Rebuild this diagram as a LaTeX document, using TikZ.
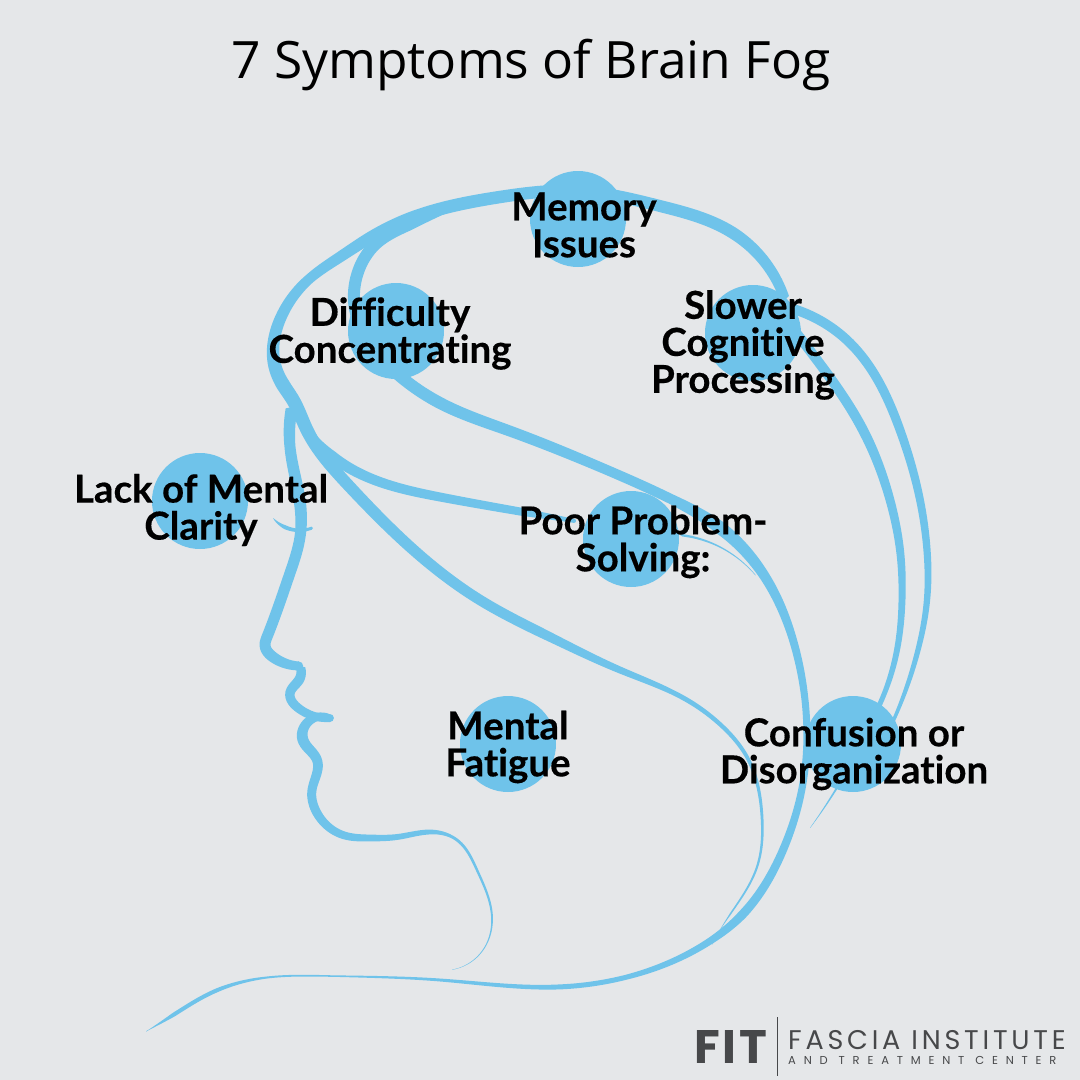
\documentclass[tikz,border=0pt]{standalone}
\usepackage{fontspec}
\usetikzlibrary{decorations.markings,hobby}
\setmainfont{Open Sans}
\newfontfamily\labelfont[Ligatures=NoCommon,BoldFeatures={FakeBold=0.35}]{Lato}
\newfontfamily\logofont{Poppins}
\definecolor{bgc}{HTML}{E5E7E9}
\definecolor{sky}{HTML}{6FC3EA}
\definecolor{logoc}{HTML}{47484A}
\tikzset{
  use Hobby shortcut,
  spot/.style={circle,fill=sky,minimum size=96pt,inner sep=0pt},
  lab/.style={font=\labelfont\bfseries\fontsize{38.5}{37}\selectfont,align=center,text=black,inner sep=0pt},
}
\makeatletter
% half width along a path: piecewise linear list distance/width
\newcommand\calcrad[1]{%
  \gdef\rr{0}\gdef\lastd{0}\gdef\lastw{0}\gdef\gotit{0}%
  \foreach \da/\wa in \wlist {%
    \ifnum\gotit=0
      \pgfmathtruncatemacro\inseg{(#1<=\da)?1:0}%
      \ifnum\inseg=1
        \pgfmathsetmacro\tmpr{(\lastw+(\wa-\lastw)*(#1-\lastd)/max(\da-\lastd,0.01))/2}%
        \xdef\rr{\tmpr}\gdef\gotit{1}%
      \fi
      \xdef\lastd{\da}\xdef\lastw{\wa}%
    \fi
  }%
  \ifnum\gotit=0 \pgfmathsetmacro\tmpr{\lastw/2}\xdef\rr{\tmpr}\fi
}
\newcommand\inkline[2]{%
  \def\wlist{#1}\gdef\leftedge{}\gdef\rightedge{}\gdef\capfirst{}%
  \path[decorate,decoration={markings,mark=between positions 0 and 1 step 2.5pt with {%
    \pgfmathsetmacro\curd{\pgfkeysvalueof{/pgf/decoration/mark info/distance from start}}%
    \calcrad{\curd}%
    \pgfpointtransformed{\pgfqpoint{0pt}{0pt}}%
    \xdef\caplast{\noexpand\pgfpathcircle{\noexpand\pgfqpoint{\the\pgf@x}{\the\pgf@y}}{\rr pt}}%
    \ifx\capfirst\@empty\global\let\capfirst\caplast\fi
    \pgfpointtransformed{\pgfqpoint{0pt}{\rr pt}}%
    \ifx\leftedge\@empty
      \xdef\leftedge{\noexpand\pgfpathmoveto{\noexpand\pgfqpoint{\the\pgf@x}{\the\pgf@y}}}%
    \else
      \xdef\leftedge{\unexpanded\expandafter{\leftedge}\noexpand\pgfpathlineto{\noexpand\pgfqpoint{\the\pgf@x}{\the\pgf@y}}}%
    \fi
    \pgfpointtransformed{\pgfqpoint{0pt}{-\rr pt}}%
    \xdef\rightedge{\noexpand\pgfpathlineto{\noexpand\pgfqpoint{\the\pgf@x}{\the\pgf@y}}\unexpanded\expandafter{\rightedge}}%
    }}] #2;%
  \begin{pgfscope}\pgfsetfillcolor{sky}\leftedge\rightedge\pgfpathclose\pgfusepath{fill}\capfirst\pgfusepath{fill}\caplast\pgfusepath{fill}\end{pgfscope}%
}
\makeatother
\begin{document}
\begin{tikzpicture}[x=1pt,y=-1pt]
\useasboundingbox (0,0) rectangle (1080,1080);
\fill[bgc] (0,0) rectangle (1080,1080);
\node[font=\fontsize{51.5}{54}\selectfont,inner sep=0pt] (title) at (531,65) {7 Symptoms of Brain Fog};
\node[spot] (c1) at (578,219) {};
\node[spot] (c2) at (396,331) {};
\node[spot] (c3) at (753,333) {};
\node[spot] (c4) at (200,501) {};
\node[spot] (c5) at (631,539) {};
\node[spot] (c6) at (508,744) {};
\node[spot] (c7) at (853,744) {};
% crown, forehead, jaw
\inkline{0/10,85/12,246/12,420/13,536/10,610/12,655/14,762/12,1014/10,1164/5,1247/4,1309/3,1432/1.5,1449/0.4}
 {(785,300)..(733,233)..(660,206)..(578,191)..(500,197)..(440,209)..(373,236)..(340,257)..(307,281)..(283,313)..(274,340)..(274,362)..(282,383)..(293,400)..(307,430)..(350,487)..(417,553)..(480,600)..(550,637)..(620,670)..(687,700)..(723,727)..(747,757)..(762,817)..(757,867)..(720,930)..(712,945)}
% branch to Poor
\inkline{0/4,60/11,113/10,175/9,259/8,311/4}
 {(295,410)..(333,457)..(380,482)..(440,497)..(523,512)..(575,521)}
% inner arc to Difficulty
\inkline{0/2,50/9,100/12,180/12}
 {(455,208)..(407,227)..(373,247)..(358,272)..(354,300)..(360,325)}
% long line
\inkline{0/12,56/12,128/11,236/10,308/10,366/13,433/10,498/8,559/7,642/7,712/8,792/9,834/7,925/5,992/5,1109/3,1219/1.5,1286/2,1338/4,1388/4,1417/0.4}
 {(393,370)..(440,403)..(507,430)..(607,470)..(673,500)..(723,530)..(767,580)..(793,640)..(805,700)..(803,783)..(783,850)..(740,917)..(707,943)..(623,978)..(557,987)..(440,980)..(330,976)..(263,978)..(213,992)..(170,1017)..(145,1032)}
% arcs to Confusion
\inkline{0/10,130/10,250/8,300/7,400/5}
 {(790,325)..(817,360)..(863,430)..(890,500)..(900,550)..(902,600)..(897,650)..(878,708)}
\inkline{0/10,160/9,310/7,410/5,520/2}
 {(790,308)..(850,343)..(900,430)..(920,500)..(927,550)..(927,600)..(918,650)..(890,728)}
\inkline{0/2,50/0.3} {(838,786)..(824,808)..(810,828)}
\inkline{0/2.5,50/1.2,90/0.4} {(680,535)..(720,547)..(757,577)}
% eye
\inkline{0/0.5,15/4,40/3} {(273,518)..(287,528)..(312,528)}
% face
\inkline{0/12,40/11,97/12,131/11,168/11,236/11,258/11,286/9}
 {(292,407)..(290,447)..(300,503)..(300,537)..(290,573)..(267,637)..(265,645)..(273,657)..(300,666)}
\inkline{0/9,14/10,46/9,81/8}
 {(300,666)..(299,680)..(290,693)..(297,707)..(330,718)}
\inkline{0/7,41/11,65/10,95/9,119/9,153/8,180/7,207/6,243/5,268/3,304/2.5,353/2,387/1,426/0.3}
 {(330,718)..(307,723)..(303,740)..(317,760)..(312,790)..(317,813)..(343,835)..(370,838)..(397,837)..(433,832)..(457,840)..(477,870)..(492,917)..(483,950)..(450,970)}
% labels
\node[lab] (l1) at (584,225) {Memory\\Issues};
\node[lab] (l2) at (390,333.5) {Difficulty\\Concentrating};
\node[lab] (l3) at (743,345) {Slower\\Cognitive\\Processing};
\node[lab] (l4) at (201,510) {Lack of Mental\\Clarity};
\node[lab] (l5) at (643,542) {Poor Problem-\\Solving:};
\node[lab] (l6) at (508,747) {Mental\\Fatigue};
\node[lab] (l7) at (854,754) {Confusion or\\Disorganization};
% logo
\node[logoc,font=\logofont\bfseries\fontsize{47}{47}\selectfont\addfontfeature{LetterSpace=6},inner sep=0pt] (fit) at (731,1047) {FIT};
\fill[logoc] (777,1017) rectangle (778.2,1076);
\node[logoc,font=\logofont\fontsize{11.5}{15}\selectfont,align=left,inner sep=0pt,anchor=west] (fa) at (788,1047) {{\fontsize{27}{15}\selectfont\addfontfeature{LetterSpace=14}FASCIA INSTITUTE}\\{\addfontfeature{LetterSpace=68}AND TREATMENT CENTER}};
\end{tikzpicture}
\end{document}
